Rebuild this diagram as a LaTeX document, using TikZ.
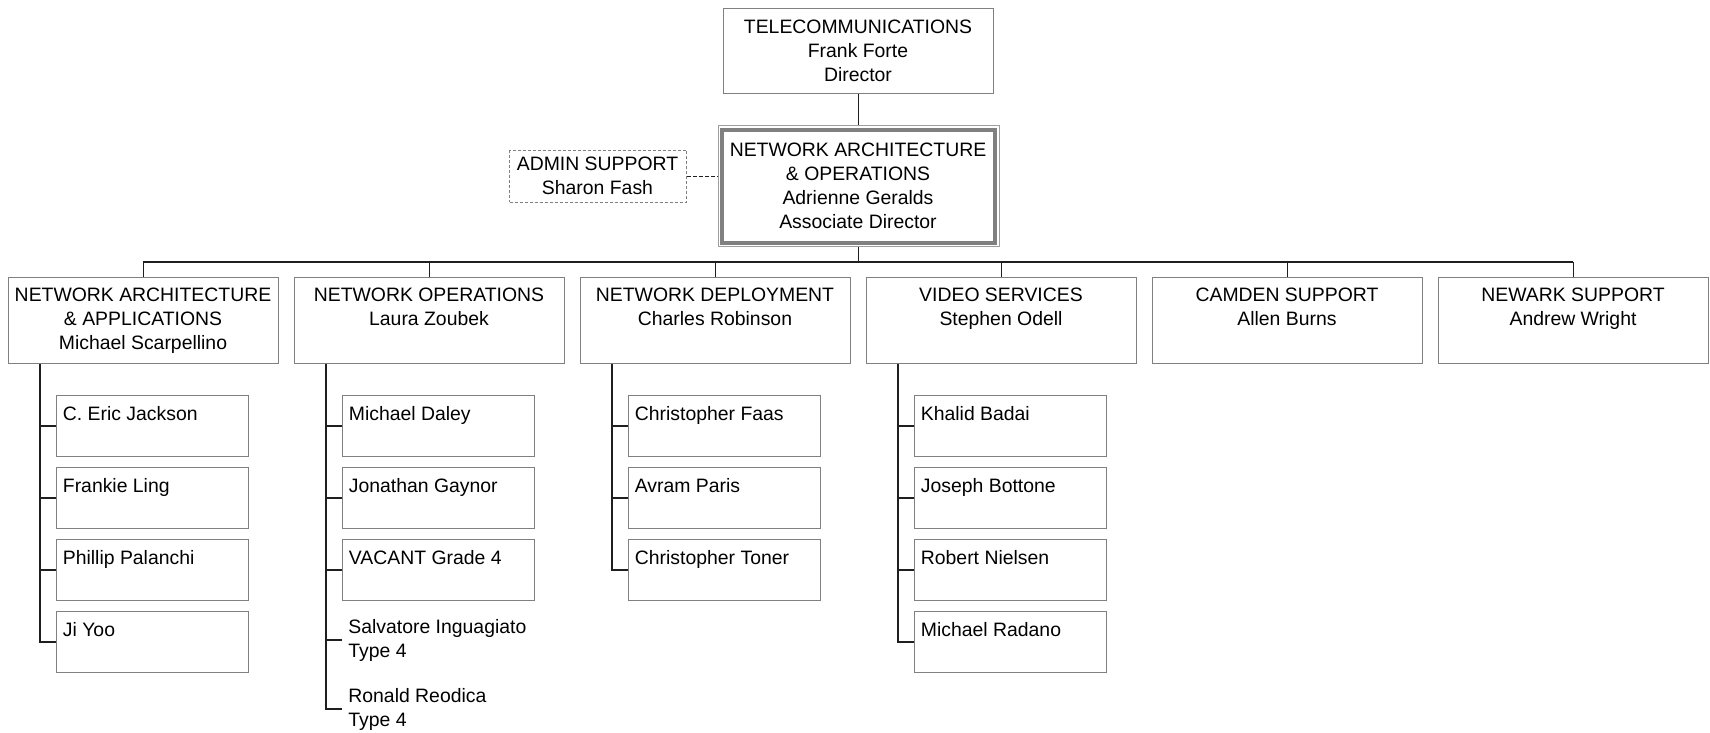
\documentclass[tikz,border=0pt]{standalone}
\usepackage{fontspec}
\setmainfont{Liberation Sans}
\definecolor{boxgray}{gray}{0.5}
\definecolor{rimgray}{gray}{0.62}
\definecolor{wiregray}{gray}{0.12}
\newcommand\lab{\fontsize{9.7}{12}\selectfont}
\begin{document}
\begin{tikzpicture}[x=0.5pt,y=-0.5pt,
  box/.style={draw=boxgray, line width=0.5pt, rectangle, inner sep=0pt, anchor=north west},
  lvlbox/.style={box, minimum width=135pt, minimum height=43pt},
  kidbox/.style={box, minimum width=96pt, minimum height=30.5pt},
  wire/.style={draw=wiregray, line width=0.65pt},
  txt/.style={inner sep=0pt, font=\lab, align=center, anchor=north},
  kidtxt/.style={inner sep=0pt, font=\lab, align=left, anchor=north west},
  looseTxt/.style={inner xsep=3pt, inner ysep=0pt, font=\lab, align=left, anchor=west}]
\useasboundingbox (0,0) rectangle (1710,733);

% one staff box with its name set at the upper left
\newcommand\kid[4]{%
  \node[kidbox] (#1) at (#2,#3) {};
  \node[kidtxt] (#1t) at ([shift={(3.25pt,-5.35pt)}]#1.north west) {#4};
}

% director
\node[box, minimum width=135pt, minimum height=42.2pt] (tel) at (723,8.5) {};
\node[txt] (telt) at (858,20) {TELECOMMUNICATIONS\\Frank Forte\\Director};

% associate director, double frame
\node[box, draw=rimgray, minimum width=140.5pt, minimum height=60.5pt] (nao) at (717.5,125.5) {};
\node[draw=boxgray, line width=2pt, inner sep=0pt, minimum width=136.5pt, minimum height=56.5pt] (naoin) at (nao.center) {};
\node[txt] (naot) at (858,143) {NETWORK ARCHITECTURE\\\& OPERATIONS\\Adrienne Geralds\\Associate Director};

% staff assistant
\node[box, dash pattern=on 1.5pt off 1pt, minimum width=88.5pt, minimum height=26pt] (adm) at (509,150) {};
\node[txt] (admt) at (597.5,156.5) {ADMIN SUPPORT\\Sharon Fash};
\draw[wire, line width=0.5pt, dash pattern=on 2pt off 1pt] (adm.east) -- (adm.east -| nao.west);

% reporting bus
\coordinate (busL) at (143,262);
\coordinate (busR) at (1573,262);
\draw[wire] (tel.south) -- (nao.north);
\draw[wire] (nao.south) -- (nao.south |- busL);
\draw[wire] (busL) -- (busR);

% departments
\node[lvlbox] (l1) at (8,277) {};
\node[lvlbox] (l2) at (294,277) {};
\node[lvlbox] (l3) at (580,277) {};
\node[lvlbox] (l4) at (866,277) {};
\node[lvlbox] (l5) at (1152,277) {};
\node[lvlbox] (l6) at (1438,277) {};
\node[txt] (l1t) at (143,288) {NETWORK ARCHITECTURE\\\& APPLICATIONS\\Michael Scarpellino};
\node[txt] (l2t) at (429,288) {NETWORK OPERATIONS\\Laura Zoubek};
\node[txt] (l3t) at (715,288) {NETWORK DEPLOYMENT\\Charles Robinson};
\node[txt] (l4t) at (1001,288) {VIDEO SERVICES\\Stephen Odell};
\node[txt] (l5t) at (1287,288) {CAMDEN SUPPORT\\Allen Burns};
\node[txt] (l6t) at (1573,288) {NEWARK SUPPORT\\Andrew Wright};
\foreach \d in {l1,l2,l3,l4,l5,l6}
  \draw[wire] (\d.north) -- (\d.north |- busL);

% spines below the departments
\coordinate (s1) at ([xshift=16pt]l1.south west);
\coordinate (s2) at ([xshift=16pt]l2.south west);
\coordinate (s3) at ([xshift=16pt]l3.south west);
\coordinate (s4) at ([xshift=16pt]l4.south west);

% network architecture & applications
\kid{a1}{56}{395}{C. Eric Jackson}
\kid{a2}{56}{467}{Frankie Ling}
\kid{a3}{56}{539}{Phillip Palanchi}
\kid{a4}{56}{611}{Ji Yoo}
\foreach \k in {a1,a2,a3,a4} \draw[wire] (s1) |- (\k.west);

% network operations
\kid{b1}{342}{395}{Michael Daley}
\kid{b2}{342}{467}{Jonathan Gaynor}
\kid{b3}{342}{539}{VACANT Grade 4}
\node[looseTxt] (b4) at (342,640) {Salvatore Inguagiato\\Type 4};
\node[looseTxt] (b5) at (342,709) {Ronald Reodica\\Type 4};
\foreach \k in {b1,b2,b3,b4,b5} \draw[wire] (s2) |- (\k.west);

% network deployment
\kid{c1}{628}{395}{Christopher Faas}
\kid{c2}{628}{467}{Avram Paris}
\kid{c3}{628}{539}{Christopher Toner}
\foreach \k in {c1,c2,c3} \draw[wire] (s3) |- (\k.west);

% video services
\kid{d1}{914}{395}{Khalid Badai}
\kid{d2}{914}{467}{Joseph Bottone}
\kid{d3}{914}{539}{Robert Nielsen}
\kid{d4}{914}{611}{Michael Radano}
\foreach \k in {d1,d2,d3,d4} \draw[wire] (s4) |- (\k.west);
\end{tikzpicture}
\end{document}
